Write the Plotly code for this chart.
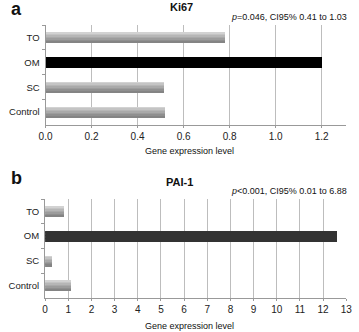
import plotly.graph_objects as go

categories = ["Control", "SC", "OM", "TO"]
ki67_values = [0.517, 0.513, 1.20, 0.78]
pai1_values = [1.14, 0.31, 12.6, 0.81]
highlight = [False, False, True, False]
ki67_dark = "#000000"
pai1_dark = "#333333"
ki67_ticks = [0.0, 0.2, 0.4, 0.6, 0.8, 1.0, 1.2]
ki67_ticklabels = ["0.0", "0.2", "0.4", "0.6", "0.8", "1.0", "1.2"]
pai1_ticks = list(range(0, 14))

# shading strips for the gray bars (top -> bottom)
shade_colors = ["#d2d2d2", "#c4c4c4", "#b6b6b6", "#a9a9a9", "#9c9c9c", "#8f8f8f", "#848484"]

W, H = 359, 332
FONT = "Liberation Sans, Arial, sans-serif"
BAR_W = 0.42

def px_x(x):
    return x / W

def px_y(y):
    return 1 - y / H

fig = go.Figure()
n = len(shade_colors)
sw = BAR_W / n
for values, dark, xa, ya in [(ki67_values, ki67_dark, "x", "y"),
                             (pai1_values, pai1_dark, "x2", "y2")]:
    for i, c in enumerate(shade_colors):
        off = BAR_W / 2 - (i + 1) * sw
        cols = [dark if h else c for h in highlight]
        fig.add_trace(go.Bar(y=categories, x=values, orientation="h",
                             marker=dict(color=cols, line=dict(width=0)),
                             width=sw + 0.004, offset=off, xaxis=xa, yaxis=ya,
                             showlegend=False, hoverinfo="skip"))

axis_common_x = dict(showline=True, linecolor="#999999", linewidth=1,
                     showgrid=True, gridcolor="#bdbdbd", gridwidth=1,
                     zeroline=False, ticks="outside", ticklen=2, tickcolor="#999999",
                     tickfont=dict(family=FONT, size=10, color="#222"))
axis_common_y = dict(showline=True, linecolor="#999999", linewidth=1,
                     showgrid=False, zeroline=False, type="category",
                     categoryorder="array", categoryarray=categories,
                     tickson="boundaries", ticks="outside", ticklen=3, tickcolor="#999999",
                     ticklabelstandoff=3,
                     range=[-0.5, 3.5],
                     tickfont=dict(family=FONT, size=9.5, color="#222"))

fig.update_layout(
    width=W, height=H, margin=dict(l=0, r=0, t=0, b=0),
    paper_bgcolor="white", plot_bgcolor="white",
    barmode="overlay", bargap=0,
    xaxis=dict(domain=[px_x(40), px_x(351.5)], range=[0, 1.305], anchor="y",
               tickvals=ki67_ticks, ticktext=ki67_ticklabels, **axis_common_x),
    yaxis=dict(domain=[px_y(124.5), px_y(25)], anchor="x", **axis_common_y),
    xaxis2=dict(domain=[px_x(39.5), px_x(352)], range=[0, 13], anchor="y2",
                tickvals=pai1_ticks, **axis_common_x),
    yaxis2=dict(domain=[px_y(298), px_y(199)], anchor="x2", **axis_common_y),
)

annos = [
    dict(text="<b>a</b>", x=px_x(2), y=px_y(9), xanchor="left", yanchor="middle", font=dict(size=18)),
    dict(text="<b>b</b>", x=px_x(2), y=px_y(178), xanchor="left", yanchor="middle", font=dict(size=18)),
    dict(text="<b>Ki67</b>", x=px_x(181), y=px_y(7.5), xanchor="center", yanchor="middle", font=dict(size=11)),
    dict(text="<b>PAI-1</b>", x=px_x(179), y=px_y(181.5), xanchor="center", yanchor="middle", font=dict(size=11)),
    dict(text="<i>p</i>=0.046, CI95% 0.41 to 1.03", x=px_x(355), y=px_y(17), xanchor="right", yanchor="middle", font=dict(size=9)),
    dict(text="<i>p</i>&lt;0.001, CI95% 0.01 to 6.88", x=px_x(355), y=px_y(190.5), xanchor="right", yanchor="middle", font=dict(size=9)),
    dict(text="Gene expression level", x=px_x(189), y=px_y(151), xanchor="center", yanchor="middle", font=dict(size=9)),
    dict(text="Gene expression level", x=px_x(189), y=px_y(326), xanchor="center", yanchor="middle", font=dict(size=9)),
]
for a in annos:
    a["font"].update(family=FONT, color="#111")
    fig.add_annotation(xref="paper", yref="paper", showarrow=False, **a)

fig.write_html("out.html", config={"displayModeBar": False},
               post_script="document.body.style.margin='0';document.body.style.overflow='hidden';")
